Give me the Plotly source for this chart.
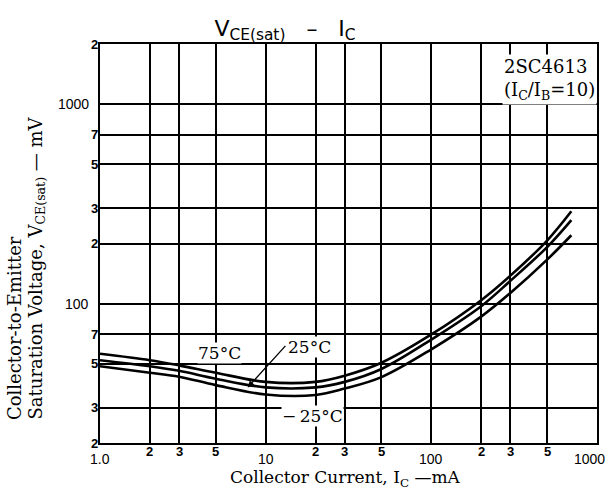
import numpy as np
import plotly.graph_objects as go

# ---- data ----
ic_ma = [1, 2, 3, 5, 10, 20, 30, 50, 100, 200, 300, 500, 700]
vce_75 = [56, 52, 49, 45, 40.5, 40.5, 43.5, 50.5, 70, 104, 138, 207, 290]
vce_25 = [52, 48.5, 46, 42, 38, 38, 40.5, 47, 66, 97, 130, 192, 262]
vce_m25 = [48.5, 45, 43, 39, 35, 34.8, 37.5, 42.8, 59, 86, 113, 166, 220]

x_grid = [1, 2, 3, 5, 10, 20, 30, 50, 100, 200, 300, 500, 1000]
x_major_vals = [1, 10, 100, 1000]
x_major_text = ["1.0", "10", "100", "1000"]
x_minor_vals = [2, 3, 5, 20, 30, 50, 200, 300, 500]
x_minor_text = ["2", "3", "5", "2", "3", "5", "2", "3", "5"]

y_grid = [20, 30, 50, 70, 100, 200, 300, 500, 700, 1000, 2000]
y_major_vals = [100, 1000]
y_major_text = ["100", "1000"]
y_minor_vals = [20, 30, 50, 70, 200, 300, 500, 700, 2000]
y_minor_text = ["2", "3", "5", "7", "2", "3", "5", "7", "2"]

curve_labels = [("75°C", 5.3, 56.5), ("25°C", 18.5, 60.6), ("\u2212\u200925°C", 19.3, 27.3)]
arrow_head = (7.8, 38.0)

SERIF = "DejaVu Serif, Liberation Serif, serif"
SANS = "Liberation Sans, Arial, sans-serif"

# plot-area geometry in pixels
L, R, T, B = 100, 597, 44, 443
W, H = 611, 490


def px(xp):
    return (xp - L) / (R - L)


def py(yp):
    return (B - yp) / (B - T)


fig = go.Figure()
for vals in (vce_75, vce_25, vce_m25):
    fig.add_trace(go.Scatter(x=ic_ma, y=vals, mode="lines",
                             line=dict(color="black", width=2.6, shape="spline", smoothing=1.0),
                             showlegend=False, hoverinfo="skip"))

ann = []
# x tick labels
for v, t in zip(x_major_vals, x_major_text):
    ann.append(dict(x=np.log10(v), y=0, xref="x", yref="paper", text=t, showarrow=False,
                    xanchor="center", yanchor="middle", yshift=-16, xshift=(-8 if v == 1000 else 0),
                    font=dict(family=SANS, size=14, color="black")))
for v, t in zip(x_minor_vals, x_minor_text):
    ann.append(dict(x=np.log10(v), y=0, xref="x", yref="paper", text="<b>%s</b>" % t, showarrow=False,
                    xanchor="center", yanchor="middle", yshift=-8,
                    font=dict(family=SANS, size=13, color="black")))
# y tick labels
for v, t in zip(y_major_vals, y_major_text):
    ann.append(dict(x=0, y=np.log10(v), xref="paper", yref="y", text=t, showarrow=False,
                    xanchor="right", yanchor="middle", xshift=-9,
                    font=dict(family=SANS, size=14, color="black")))
for v, t in zip(y_minor_vals, y_minor_text):
    ann.append(dict(x=0, y=np.log10(v), xref="paper", yref="y", text="<b>%s</b>" % t, showarrow=False,
                    xanchor="right", yanchor="middle", xshift=0,
                    font=dict(family=SANS, size=13, color="black")))
# curve labels
for t, xv, yv in curve_labels:
    ann.append(dict(x=np.log10(xv), y=np.log10(yv), xref="x", yref="y", text=t, showarrow=False,
                    xanchor="center", yanchor="middle", bgcolor="white", borderpad=0,
                    font=dict(family=SERIF, size=17, color="black")))
# arrow for 25°C
ann.append(dict(x=np.log10(arrow_head[0]), y=np.log10(arrow_head[1]), xref="x", yref="y",
                text="", showarrow=True, ax=39, ay=-43, arrowhead=2, arrowsize=1,
                arrowwidth=1.3, arrowcolor="black", standoff=0))
# device box
ann.append(dict(x=1, y=1, xref="paper", yref="paper", xanchor="right", yanchor="top", yshift=-10,
                text="2SC4613<br>(I<sub>C</sub>/I<sub>B</sub>=10)", align="left", showarrow=False,
                bgcolor="white", borderpad=1, font=dict(family=SERIF, size=18, color="black")))
# axis titles
ann.append(dict(x=px(345), y=py(478), xref="paper", yref="paper",
                text="Collector Current, I<sub>C</sub> \u2014mA",
                showarrow=False, xanchor="center", yanchor="middle",
                font=dict(family=SERIF, size=17, color="black")))
ann.append(dict(x=px(14), y=py(422), xref="paper", yref="paper", text="Collector-to-Emitter",
                textangle=-90, showarrow=False, xanchor="center", yanchor="bottom",
                font=dict(family=SERIF, size=18, color="black")))
ann.append(dict(x=px(36), y=py(422), xref="paper", yref="paper",
                text="Saturation Voltage, V<sub>CE(sat)</sub> \u2014 mV",
                textangle=-90, showarrow=False, xanchor="center", yanchor="bottom",
                font=dict(family=SERIF, size=18, color="black")))

NB = "\u00a0"
fig.update_layout(
    width=W, height=H,
    margin=dict(l=L, r=W - R, t=T, b=H - B),
    paper_bgcolor="white", plot_bgcolor="white",
    title=dict(text="V<sub>CE(sat)</sub>" + NB * 3 + "\u2013" + NB * 3 + "I<sub>C</sub>",
               x=285 / W, y=1 - 28 / H,
               xanchor="center", yanchor="middle", xref="container", yref="container",
               font=dict(family="DejaVu Sans, sans-serif", size=22, color="black")),
    xaxis=dict(type="log", range=[0, 3], tickvals=x_grid, showticklabels=False, ticks="",
               showgrid=True, gridcolor="black", gridwidth=1.5, zeroline=False,
               showline=True, mirror=True, linecolor="black", linewidth=2),
    yaxis=dict(type="log", range=[np.log10(20), np.log10(2000)], tickvals=y_grid, showticklabels=False,
               ticks="", showgrid=True, gridcolor="black", gridwidth=1.5, zeroline=False,
               showline=True, mirror=True, linecolor="black", linewidth=2),
    annotations=ann,
)

fig.write_html("out.html", config={"displayModeBar": False},
               post_script="document.body.style.margin='0';document.body.style.padding='0';")
